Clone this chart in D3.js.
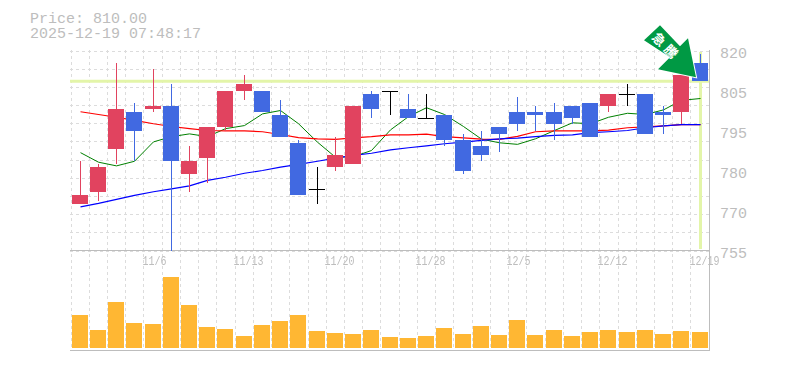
<!DOCTYPE html>
<html lang="ja">
<head>
<meta charset="utf-8">
<title>Price chart</title>
<script src="https://cdn.jsdelivr.net/npm/d3@7"></script>
<style>
  body {margin: 0; background: #fff;}
  svg {display: block;}
  text {font-family: "Liberation Mono", "DejaVu Sans Mono", monospace; fill: #bdbdbd;}
</style>
</head>
<body>
<svg width="785" height="370"></svg>
<script>
var dates = ["10/30","10/31","11/4","11/5","11/6","11/7","11/10","11/11","11/12","11/13","11/14","11/17","11/18","11/19","11/20","11/21","11/25","11/26","11/27","11/28","12/1","12/2","12/3","12/4","12/5","12/8","12/9","12/10","12/11","12/12","12/15","12/16","12/17","12/18","12/19"];
var labelDates = ["11/6","11/13","11/20","11/28","12/5","12/12","12/19"];
var opens  = [770,774,788,800,801,802,780,785,795,807,807,799,790,775,782,783,806,807,801,798,799,791,789,795,800,800,800,802,803,802,806,806,800,800,816];
var highs  = [784,783,816,803,814,809,789,795,807,812,807,804,791,782,792,802,807,807,806,806,799,793,794,795,805,802,803,802,803,806,809,806,802,812,819];
var lows   = [770,771,783,784,800,755,774,777,794,804,800,792,773,770,781,783,798,799,798,798,789,780,784,787,794,794,791,796,792,800,802,793,793,796,810];
var closes = [773,782,801,794,802,784,784,795,807,809,800,792,773,775,786,802,801,807,798,798,791,781,786,793,796,799,796,798,792,806,806,793,799,812,810];
var volumes = [33,18,46,25,24,71,43,21,19,12,23,27,33,17,15,14,18,11,10,12,20,14,22,13,28,13,18,12,16,18,16,18,14,17,16];
var maRed = [800.1,799.2,798.3,797.3,796.2,795.3,794.6,794.0,793.9,793.9,793.6,792.7,791.7,791.3,791.1,791.6,792.0,792.6,792.6,792.8,792.0,791.6,791.2,791.1,792.1,793.6,793.9,793.9,793.9,794.1,794.9,795.2,795.5,795.9,795.9];
var maGreen = [786.8,783.7,782.5,784.0,790.3,792.0,792.9,792.0,794.6,795.6,799.4,800.5,796.2,790.2,785.3,785.5,787.5,794.2,798.5,801.4,799.2,795.3,791.2,790.0,789.5,791.3,794.0,796.5,796.2,798.3,799.6,799.2,800.7,803.8,804.4];
var maBlue = [769.2,770.3,771.6,772.9,774.1,775.0,776.0,777.8,778.8,780.1,781.0,782.1,783.0,784.0,785.0,785.9,786.6,787.7,788.4,789.0,789.7,790.2,790.8,791.3,791.5,792.0,792.4,792.6,793.3,793.6,794.0,794.9,795.5,795.9,795.9];
var priceTicks = [820,807,794,781,768,755];
var priceLabels = ["820","805","795","780","770","755"];
var lastPrice = 810;

var svg = d3.select("svg");

var x = d3.scaleBand().domain(dates).range([70.5, 708.7]);
var cx = function (d) { return Math.round(x(d) + x.bandwidth() / 2) + 0.5; };
var y = d3.scaleLinear().domain([755, 820]).range([250.5, 50.5]);
var yVol = d3.scaleLinear().domain([0, 71]).range([348, 277]);

var bodyW = 16;
var red = "#e1435f", blue = "#4169e1", grey = "#bdbdbd", gridCol = "#dcdcdc", hiLite = "#e3f5a9";

// grille
var grid = svg.append("g").attr("stroke", gridCol).attr("stroke-dasharray", "3,3").attr("shape-rendering", "crispEdges");
d3.range(12).forEach(function (i) {
  var gy = Math.round(y(820) + i * 200 / 11) + 0.5;
  grid.append("line").attr("x1", 70).attr("x2", 709).attr("y1", gy).attr("y2", gy);
});
dates.forEach(function (d) {
  var gx = Math.round(x(d)) + 0.5;
  grid.append("line").attr("x1", gx).attr("x2", gx).attr("y1", 50).attr("y2", 350);
});

// axes
var axes = svg.append("g").attr("stroke", grey).attr("stroke-width", 1).attr("shape-rendering", "crispEdges");
axes.append("line").attr("x1", 70).attr("x2", 710).attr("y1", 250.5).attr("y2", 250.5);
axes.append("line").attr("x1", 70).attr("x2", 710).attr("y1", 350.5).attr("y2", 350.5);
axes.append("line").attr("x1", 709.5).attr("x2", 709.5).attr("y1", 50).attr("y2", 351);

// dernier cours
svg.append("line").attr("x1", 70).attr("x2", 709)
  .attr("y1", y(lastPrice)).attr("y2", y(lastPrice))
  .attr("stroke", hiLite).attr("stroke-width", 3);
svg.append("line").attr("x1", cx(dates[34])).attr("x2", cx(dates[34]))
  .attr("y1", 52).attr("y2", 249)
  .attr("stroke", hiLite).attr("stroke-width", 3);

// moyennes mobiles
var ma = d3.line().x(function (v, i) { return cx(dates[i]); }).y(function (v) { return y(v); });
[[maGreen, "#008000", 1], [maRed, "#ff0000", 1.2], [maBlue, "#0000ff", 1.2]].forEach(function (s) {
  svg.append("path").attr("d", ma(s[0])).attr("fill", "none")
    .attr("stroke", s[1]).attr("stroke-width", s[2]);
});

// bougies
var candles = svg.append("g").selectAll("g").data(dates).enter().append("g");
function col(i) {
  if (closes[i] > opens[i]) return red;
  if (closes[i] < opens[i]) return blue;
  return "#000";
}
candles.append("line")
  .attr("shape-rendering", "crispEdges")
  .attr("x1", function (d) { return cx(d); })
  .attr("x2", function (d) { return cx(d); })
  .attr("y1", function (d, i) { return y(highs[i]); })
  .attr("y2", function (d, i) { return y(lows[i]); })
  .attr("stroke", function (d, i) { return col(i); });
candles.append("rect")
  .attr("shape-rendering", "crispEdges")
  .attr("x", function (d) { return cx(d) - 8.5; })
  .attr("width", bodyW)
  .attr("y", function (d, i) { return y(Math.max(opens[i], closes[i])); })
  .attr("height", function (d, i) { return Math.max(1, Math.abs(y(opens[i]) - y(closes[i]))); })
  .attr("fill", function (d, i) { return col(i); });

// volumes
svg.append("g").selectAll("rect").data(volumes).enter().append("rect")
  .attr("shape-rendering", "crispEdges")
  .attr("x", function (v, i) { return cx(dates[i]) - 8.5; })
  .attr("width", bodyW)
  .attr("y", function (v) { return yVol(v); })
  .attr("height", function (v) { return yVol(0) - yVol(v); })
  .attr("fill", "#ffb733");

// textes
svg.append("g").selectAll("text").data(priceTicks).enter().append("text")
  .attr("x", 720)
  .attr("y", function (t, i) { return 53 + i * 40 + 5; })
  .style("font-size", "15px")
  .text(function (t, i) { return priceLabels[i]; });

// grayscale: evite le lissage colore du texte compresse
svg.append("g").style("filter", "grayscale(1)").selectAll("text").data(labelDates).enter().append("text")
  .attr("x", function (d) { return cx(d) - 11; })
  .attr("y", 265)
  .attr("textLength", function (d) { return d.length * 6; })
  .attr("lengthAdjust", "spacingAndGlyphs")
  .style("font-size", "13px")
  .text(function (d) { return d; });

svg.append("text").attr("x", 30).attr("y", 23).style("font-size", "15px").text("Price: 810.00");
svg.append("text").attr("x", 30).attr("y", 38).style("font-size", "15px").text("2025-12-19 07:48:17");

// fleche
var tipX = cx(dates[34]) - 4.5, tipY = y(lastPrice) - 4;
var arrowPts = [[-36,-52],[-52,-37],[-26,-20],[-38,-8],[0,0],[-8,-39],[-16,-31]];
var arrow = svg.append("g").attr("transform", "translate(" + tipX + "," + tipY + ")");
arrow.append("path").attr("d", d3.line()(arrowPts) + "Z")
  .attr("fill", "#009944").attr("stroke", "#fff").attr("stroke-width", 2).attr("paint-order", "stroke");
arrow.append("text").attr("transform", "translate(-33,-27) rotate(45)")
  .attr("text-anchor", "middle")
  .style("font-family", "'Noto Sans CJK JP'").style("font-size", "13px").style("font-weight", "bold")
  .style("letter-spacing", "4px")
  .style("fill", "#fff").text("急騰");
</script>
</body>
</html>
